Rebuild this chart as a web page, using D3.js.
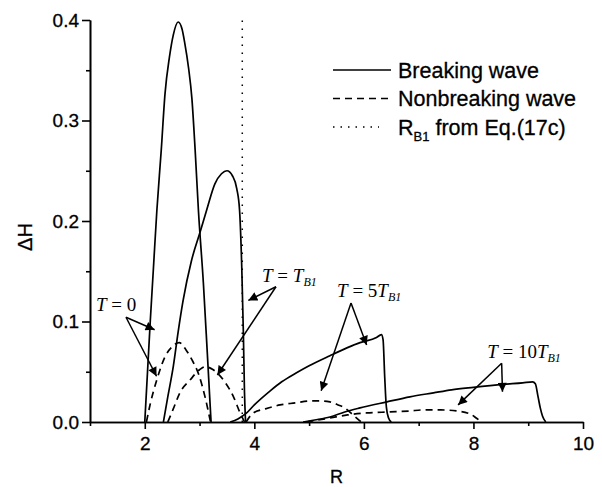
<!DOCTYPE html>
<html>
<head>
<meta charset="utf-8">
<script src="https://cdn.jsdelivr.net/npm/d3@7"></script>
<style>
  body { margin: 0; background: #fff; }
  svg { display: block; }
</style>
</head>
<body>
<script>
// wave height profiles, [R, ΔH]
const breakingT0 = [[2.0,0],[2.05,0.05],[2.1,0.1],[2.16,0.155],[2.22,0.21],[2.3,0.27],[2.37,0.327],[2.45,0.363],[2.52,0.385],[2.61,0.398],[2.68,0.391],[2.73,0.377],[2.8,0.352],[2.86,0.322],[2.92,0.27],[2.98,0.21],[3.07,0.138],[3.14,0.07],[3.21,0]];
const breakingTB1 = [[2.34,0],[2.42,0.025],[2.52,0.055],[2.61,0.09],[2.7,0.121],[2.85,0.16],[3.01,0.189],[3.13,0.211],[3.28,0.237],[3.4,0.247],[3.5,0.25],[3.6,0.245],[3.68,0.232],[3.73,0.211],[3.77,0.155],[3.8,0.088],[3.82,0.03],[3.84,0]];
const breaking5TB1 = [[3.56,0],[3.7,0.003],[3.86,0.009],[4.0,0.017],[4.29,0.031],[4.5,0.04],[4.77,0.049],[5.0,0.056],[5.38,0.066],[5.7,0.074],[5.93,0.079],[6.23,0.084],[6.32,0.087],[6.35,0.082],[6.38,0.045],[6.41,0.015],[6.45,0.004],[6.5,0]];
const breaking10TB1 = [[4.89,0],[5.1,0.002],[5.38,0.005],[5.65,0.01],[5.93,0.014],[6.42,0.02],[6.84,0.025],[7.27,0.029],[7.6,0.032],[8.0,0.0345],[8.55,0.0375],[8.9,0.039],[9.08,0.04],[9.13,0.038],[9.18,0.025],[9.22,0.014],[9.26,0.006],[9.32,0]];

const nonbreakingT0 = [[2.03,0],[2.1,0.018],[2.22,0.042],[2.37,0.065],[2.5,0.075],[2.63,0.079],[2.75,0.072],[2.86,0.062],[2.98,0.048],[3.1,0.025],[3.2,0]];
const nonbreakingTB1 = [[2.42,0],[2.52,0.013],[2.64,0.029],[2.83,0.042],[3.0,0.052],[3.1,0.055],[3.25,0.052],[3.46,0.04],[3.62,0.025],[3.74,0.009],[3.82,0]];
const nonbreaking5TB1 = [[3.85,0],[3.98,0.009],[4.2,0.013],[4.47,0.017],[4.75,0.019],[5.02,0.021],[5.2,0.021],[5.38,0.02],[5.53,0.017],[5.65,0.014],[5.8,0.007],[5.95,0]];
const nonbreaking10TB1 = [[4.95,0],[5.38,0.004],[5.7,0.007],[6.05,0.009],[6.48,0.01],[6.84,0.011],[7.08,0.012],[7.4,0.012],[7.69,0.011],[7.94,0.008],[8.05,0.004],[8.15,0]];

const rB1 = 3.78;

const xTicks = [2, 4, 6, 8, 10];
const xMinorTicks = [1, 3, 5, 7, 9];
const yTicks = [0, 0.1, 0.2, 0.3, 0.4];
const yMinorTicks = [0.05, 0.15, 0.25, 0.35];

const legendLabels = ["Breaking wave", "Nonbreaking wave", "from Eq.(17c)"];

// labels: text parts, anchor [R, ΔH], arrow origin and arrow tips
const annotationLabels = [
  { main: "0", factor: "", at: [1.11, 0.110], from: [1.657, 0.1042], tips: [[2.18, 0.0918], [2.215, 0.0455]] },
  { main: "T", factor: "", at: [4.14, 0.1396], from: [4.395, 0.1346], tips: [[3.89, 0.121], [3.325, 0.0468]] },
  { main: "T", factor: "5", at: [5.51, 0.1247], from: [5.765, 0.1184], tips: [[6.05, 0.0766], [5.22, 0.031]] },
  { main: "T", factor: "10", at: [8.25, 0.0637], from: [8.515, 0.0584], tips: [[8.53, 0.030], [7.72, 0.017]] }
];

const width = 602;
const height = 487;
const textColor = "#000";
const sansFont = "Arial, 'Liberation Sans', Helvetica, sans-serif";
const serifFont = "'Times New Roman', 'Liberation Serif', serif";

const svg = d3.select("body")
  .append("svg")
    .attr("width", width)
    .attr("height", height);

const xScale = d3.scaleLinear()
  .domain([1, 10])
  .range([90, 583]);
const yScale = d3.scaleLinear()
  .domain([0, 0.4])
  .range([422, 20]);

// axes
const bottomAxis = d3.axisBottom(xScale)
  .tickValues(xTicks)
  .tickSize(7)
  .tickSizeOuter(0)
  .tickPadding(8)
  .tickFormat(d3.format("d"));
const bottomMinor = d3.axisBottom(xScale)
  .tickValues(xMinorTicks)
  .tickSize(4)
  .tickSizeOuter(0)
  .tickFormat("");
const leftAxis = d3.axisLeft(yScale)
  .tickValues(yTicks)
  .tickSize(8)
  .tickSizeOuter(0)
  .tickPadding(3)
  .tickFormat(d3.format(".1f"));
const leftMinor = d3.axisLeft(yScale)
  .tickValues(yMinorTicks)
  .tickSize(4)
  .tickSizeOuter(0)
  .tickFormat("");

const drawAxis = (axis, transform) => {
  const g = svg
    .append("g")
      .attr("transform", transform)
      .call(axis);
  g.selectAll("path, line")
    .attr("stroke", textColor)
    .attr("stroke-width", 1.6);
  g.selectAll("text")
    .style("font-family", sansFont)
    .style("font-size", "19px")
    .style("fill", textColor)
    .style("stroke", textColor)
    .style("stroke-width", 0.3);
  return g;
};

drawAxis(bottomMinor, `translate(0, ${yScale(0)})`);
drawAxis(bottomAxis, `translate(0, ${yScale(0)})`);
drawAxis(leftMinor, `translate(${xScale(1)}, 0)`);
drawAxis(leftAxis, `translate(${xScale(1)}, 0)`);

// axis titles
svg
  .append("text")
    .attr("x", (xScale(1) + xScale(10)) / 2)
    .attr("y", 483)
    .attr("text-anchor", "middle")
    .style("font-family", sansFont)
    .style("font-size", "18px")
    .style("fill", textColor)
    .style("stroke", textColor)
    .style("stroke-width", 0.3)
    .text("R");
svg
  .append("text")
    .attr("transform", `translate(32, 237) rotate(-90)`)
    .attr("text-anchor", "middle")
    .style("font-family", sansFont)
    .style("font-size", "20px")
    .style("fill", textColor)
    .style("stroke", textColor)
    .style("stroke-width", 0.3)
    .text("ΔH");

// curves
const lineGenerator = d3.line()
  .x(d => xScale(d[0]))
  .y(d => yScale(d[1]))
  .curve(d3.curveMonotoneX);

const drawCurve = (data, dash) => {
  svg
    .append("path")
      .attr("d", lineGenerator(data))
      .attr("fill", "none")
      .attr("stroke", textColor)
      .attr("stroke-width", 1.7)
      .attr("stroke-dasharray", dash);
};

[breakingT0, breakingTB1, breaking5TB1, breaking10TB1]
  .forEach(series => drawCurve(series, null));
[nonbreakingT0, nonbreakingTB1, nonbreaking5TB1, nonbreaking10TB1]
  .forEach(series => drawCurve(series, "7 5"));

svg
  .append("line")
    .attr("x1", xScale(rB1))
    .attr("x2", xScale(rB1))
    .attr("y1", yScale(0))
    .attr("y2", yScale(0.4))
    .attr("stroke", textColor)
    .attr("stroke-width", 1.5)
    .attr("stroke-dasharray", "1.5 6.5");

// legend
const legendStyles = [null, "7 5", "1.5 6"];
const legend = svg
  .append("g")
    .attr("class", "legend");
legendLabels.forEach((label, i) => {
  const yPos = 70 + i * 28.5;
  legend
    .append("line")
      .attr("x1", 333)
      .attr("x2", i === 2 ? 379 : 391)
      .attr("y1", yPos)
      .attr("y2", yPos)
      .attr("stroke", textColor)
      .attr("stroke-width", 1.6)
      .attr("stroke-dasharray", legendStyles[i]);
  const text = legend
    .append("text")
      .attr("x", 398)
      .attr("y", yPos + 7.5)
      .style("font-family", sansFont)
      .style("font-size", "21.5px")
      .style("fill", textColor)
      .style("stroke", textColor)
      .style("stroke-width", 0.3);
  if (i === 2) {
    text.append("tspan").text("R");
    text.append("tspan")
      .attr("dy", 6)
      .style("font-size", "13px")
      .text("B1");
    text.append("tspan")
      .attr("dy", -6)
      .text(" " + label);
  } else {
    text.text(label);
  }
});

// annotations
svg
  .append("defs")
  .append("marker")
    .attr("id", "arrowhead")
    .attr("viewBox", "0 0 10 10")
    .attr("refX", 10)
    .attr("refY", 5)
    .attr("markerWidth", 10)
    .attr("markerHeight", 9)
    .attr("markerUnits", "userSpaceOnUse")
    .attr("orient", "auto")
  .append("path")
    .attr("d", "M0,0 L10,5 L0,10 Z")
    .attr("fill", textColor);

annotationLabels.forEach(note => {
  const label = svg
    .append("text")
      .attr("x", xScale(note.at[0]))
      .attr("y", yScale(note.at[1]))
      .style("font-family", serifFont)
      .style("font-size", "19px")
      .style("fill", textColor);
  label.append("tspan")
    .style("font-style", "italic")
    .text("T");
  label.append("tspan")
    .text(" = ");
  if (note.main === "0") {
    label.append("tspan").text("0");
  } else {
    label.append("tspan").text(note.factor);
    label.append("tspan")
      .style("font-style", "italic")
      .text("T");
    label.append("tspan")
      .attr("dy", 4)
      .style("font-style", "italic")
      .style("font-size", "12px")
      .text("B1");
  }

  note.tips.forEach(tip => {
    svg
      .append("line")
        .attr("x1", xScale(note.from[0]))
        .attr("y1", yScale(note.from[1]))
        .attr("x2", xScale(tip[0]))
        .attr("y2", yScale(tip[1]))
        .attr("stroke", textColor)
        .attr("stroke-width", 1.5)
        .attr("marker-end", "url(#arrowhead)");
  });
});
</script>
</body>
</html>
